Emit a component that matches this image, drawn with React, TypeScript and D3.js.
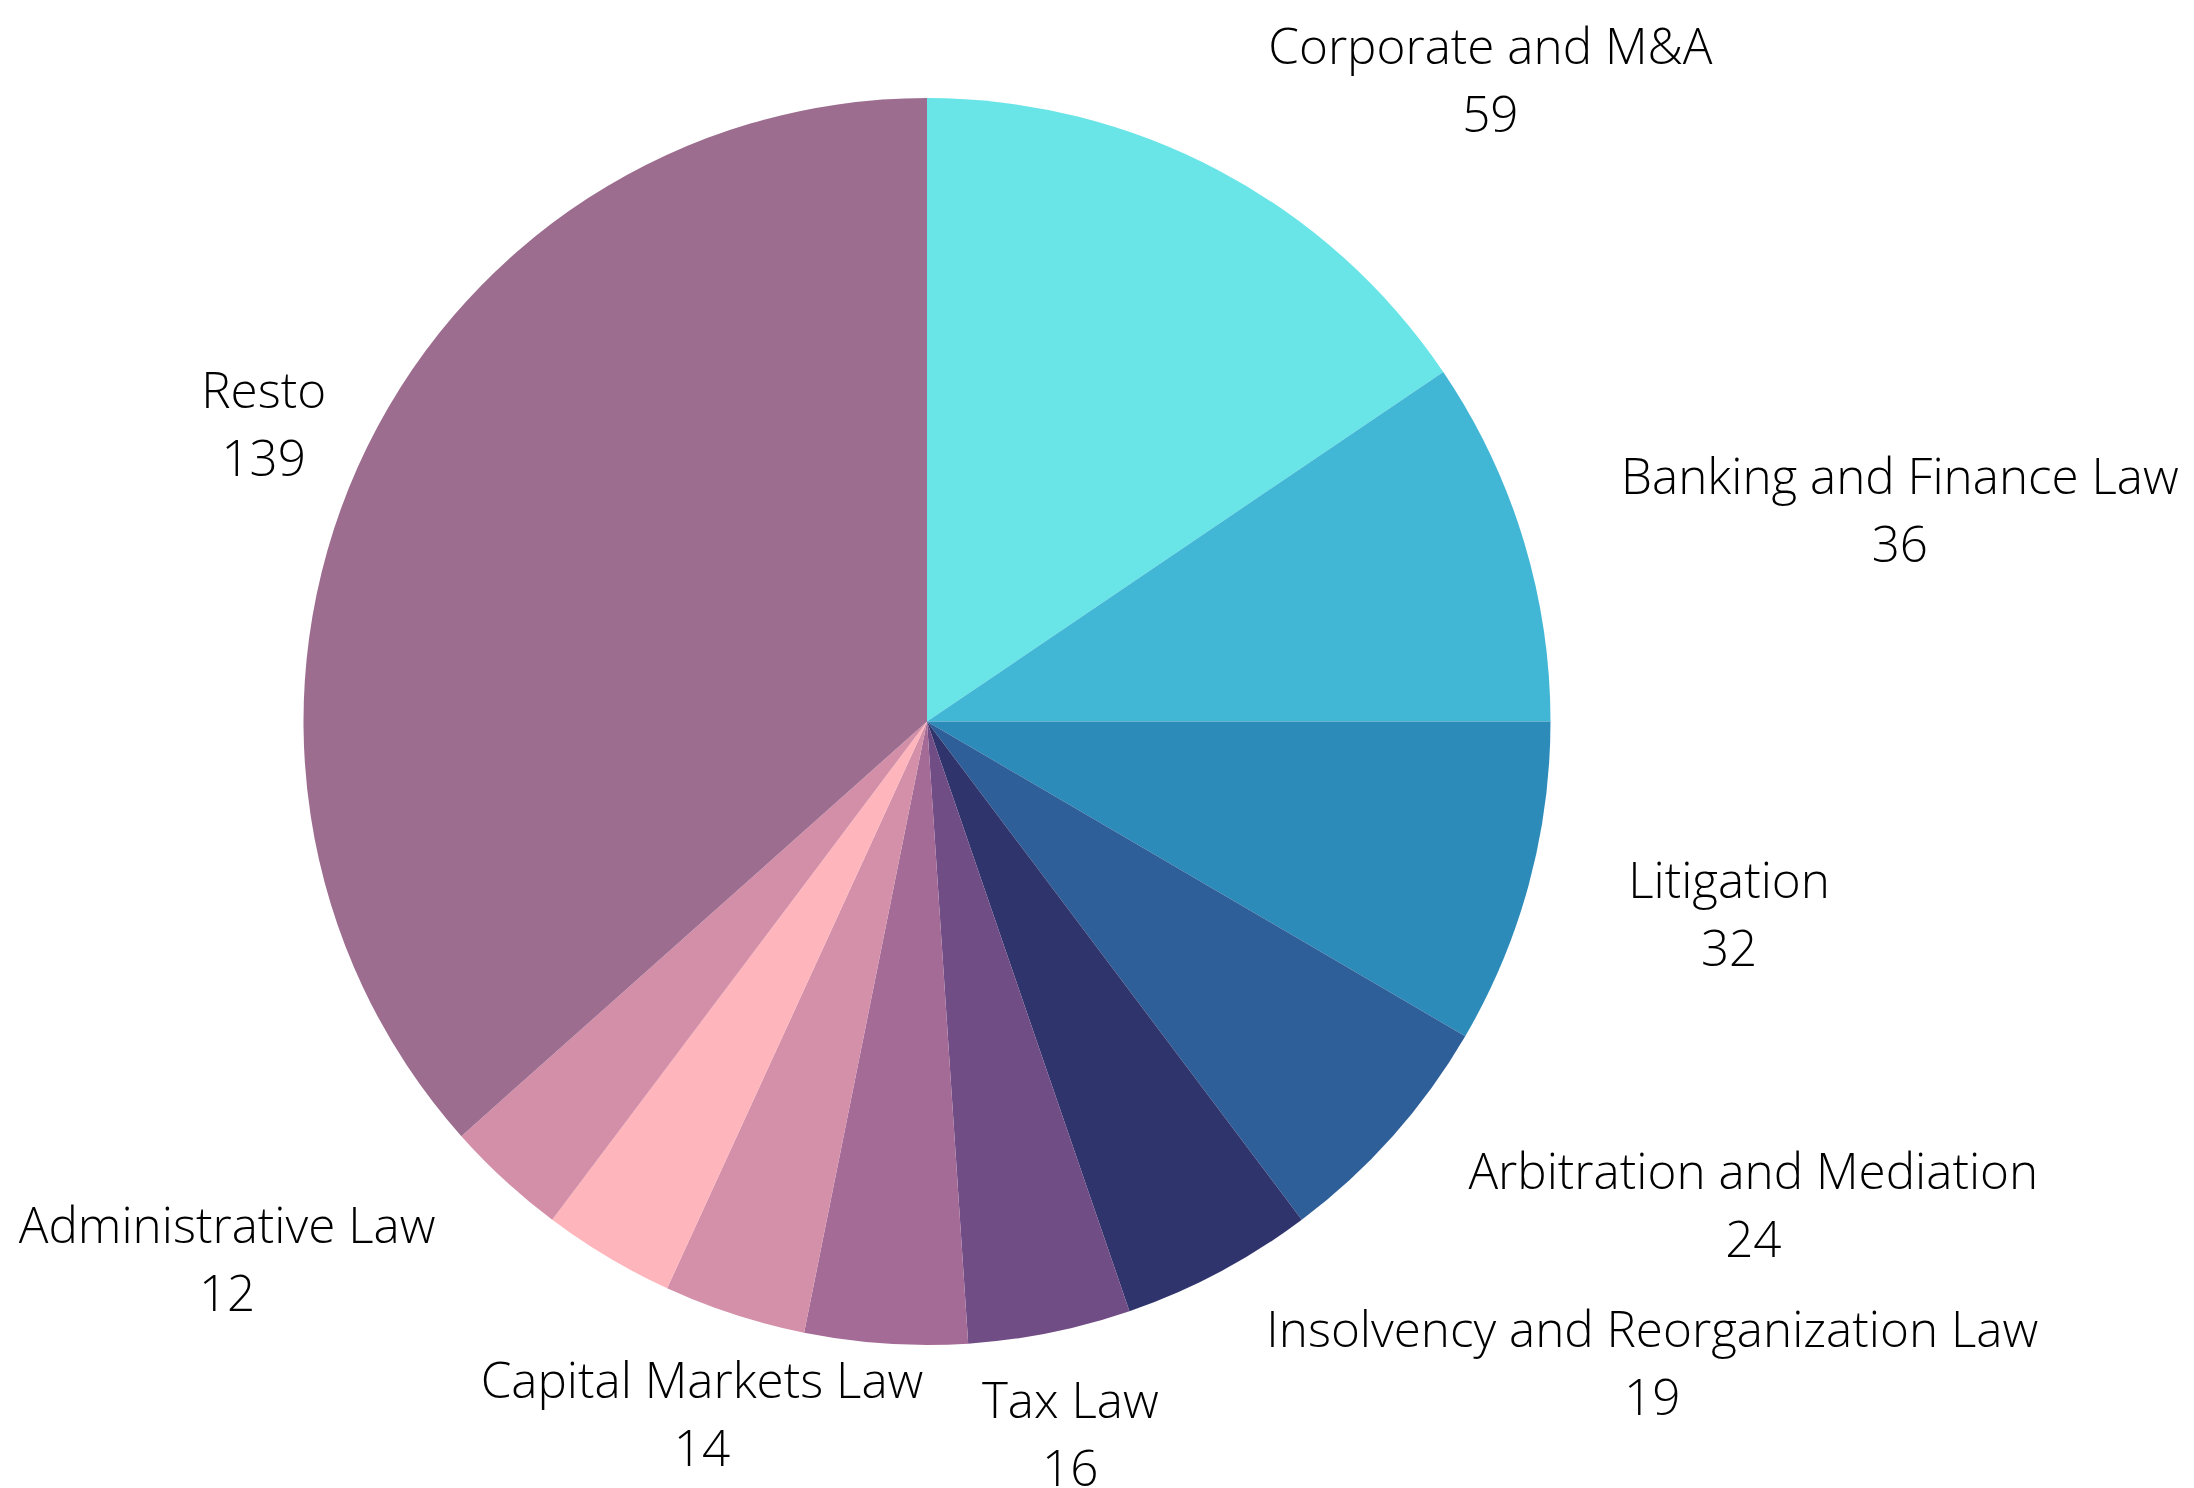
import React from "react";
import * as d3 from "d3";

const categories = [
  "Corporate and M&A",
  "Banking and Finance Law",
  "Litigation",
  "Arbitration and Mediation",
  "Insolvency and Reorganization Law",
  "Tax Law",
  "",
  "Capital Markets Law",
  "",
  "Administrative Law",
  "Resto",
];
const values = [59, 36, 32, 24, 19, 16, 16, 14, 13, 12, 139];
const colors = [
  "#69e4e7",
  "#42b6d5",
  "#2d8bb9",
  "#2e5f98",
  "#30346c",
  "#714d86",
  "#a46b96",
  "#d48fa9",
  "#feb5bb",
  "#d38ea8",
  "#9c6d8f",
];
// label placement: [angle in degrees clockwise from top or null for centroid, radius factor]
const labelLayout: [number | null, number][] = [
  [41.3, 1.369],
  [77.7, 1.597],
  [103.5, 1.323],
  [120.3, 1.535],
  [131.5, 1.553],
  [null, 1.166],
  [null, 1.166],
  [null, 1.168],
  [null, 1.166],
  [232.5, 1.415],
  [null, 1.166],
];

const W = 2194;
const H = 1488;
const CX = 927;
const CY = 721.5;
const R = 623.5;
const FONT = 49.4;
const LINE = 68;

export default function App() {
  React.useEffect(() => {
    document.body.style.margin = "0";
  }, []);
  const data = categories.map((c, i) => ({ name: c, value: values[i], color: colors[i], i }));
  const pie = d3
    .pie<any>()
    .value((d) => d.value)
    .sort(null)
    .startAngle(0)
    .endAngle(2 * Math.PI);
  const arcs = pie(data);
  const arc = d3.arc<any>().innerRadius(0).outerRadius(R);

  return (
    <svg
      width={W}
      height={H}
      style={{ position: "absolute", left: 0, top: 0, background: "#fff" }}
      fontFamily="'Open Sans', sans-serif"
    >
      <g transform={`translate(${CX},${CY})`}>
        {arcs.map((a, i) => (
          <path key={i} d={arc(a) as string} fill={a.data.color} />
        ))}
        {arcs.map((a, i) => {
          if (!a.data.name) return null;
          const [ang, rf] = labelLayout[i];
          const theta = ang === null ? (a.startAngle + a.endAngle) / 2 : (ang * Math.PI) / 180;
          const x = Math.sin(theta) * R * rf;
          const y = -Math.cos(theta) * R * rf;
          const off = 51 * 0.357;
          return (
            <g key={"l" + i}>
              <text
                x={x}
                y={y - LINE / 2 + off}
                textAnchor="middle"
                fontSize={FONT}
                fontWeight={300}
                fill="#000"
              >
                {a.data.name}
              </text>
              <text
                x={x}
                y={y + LINE / 2 + off}
                textAnchor="middle"
                fontSize={FONT}
                fontWeight={300}
                fill="#000"
              >
                {a.data.value}
              </text>
            </g>
          );
        })}
      </g>
    </svg>
  );
}
